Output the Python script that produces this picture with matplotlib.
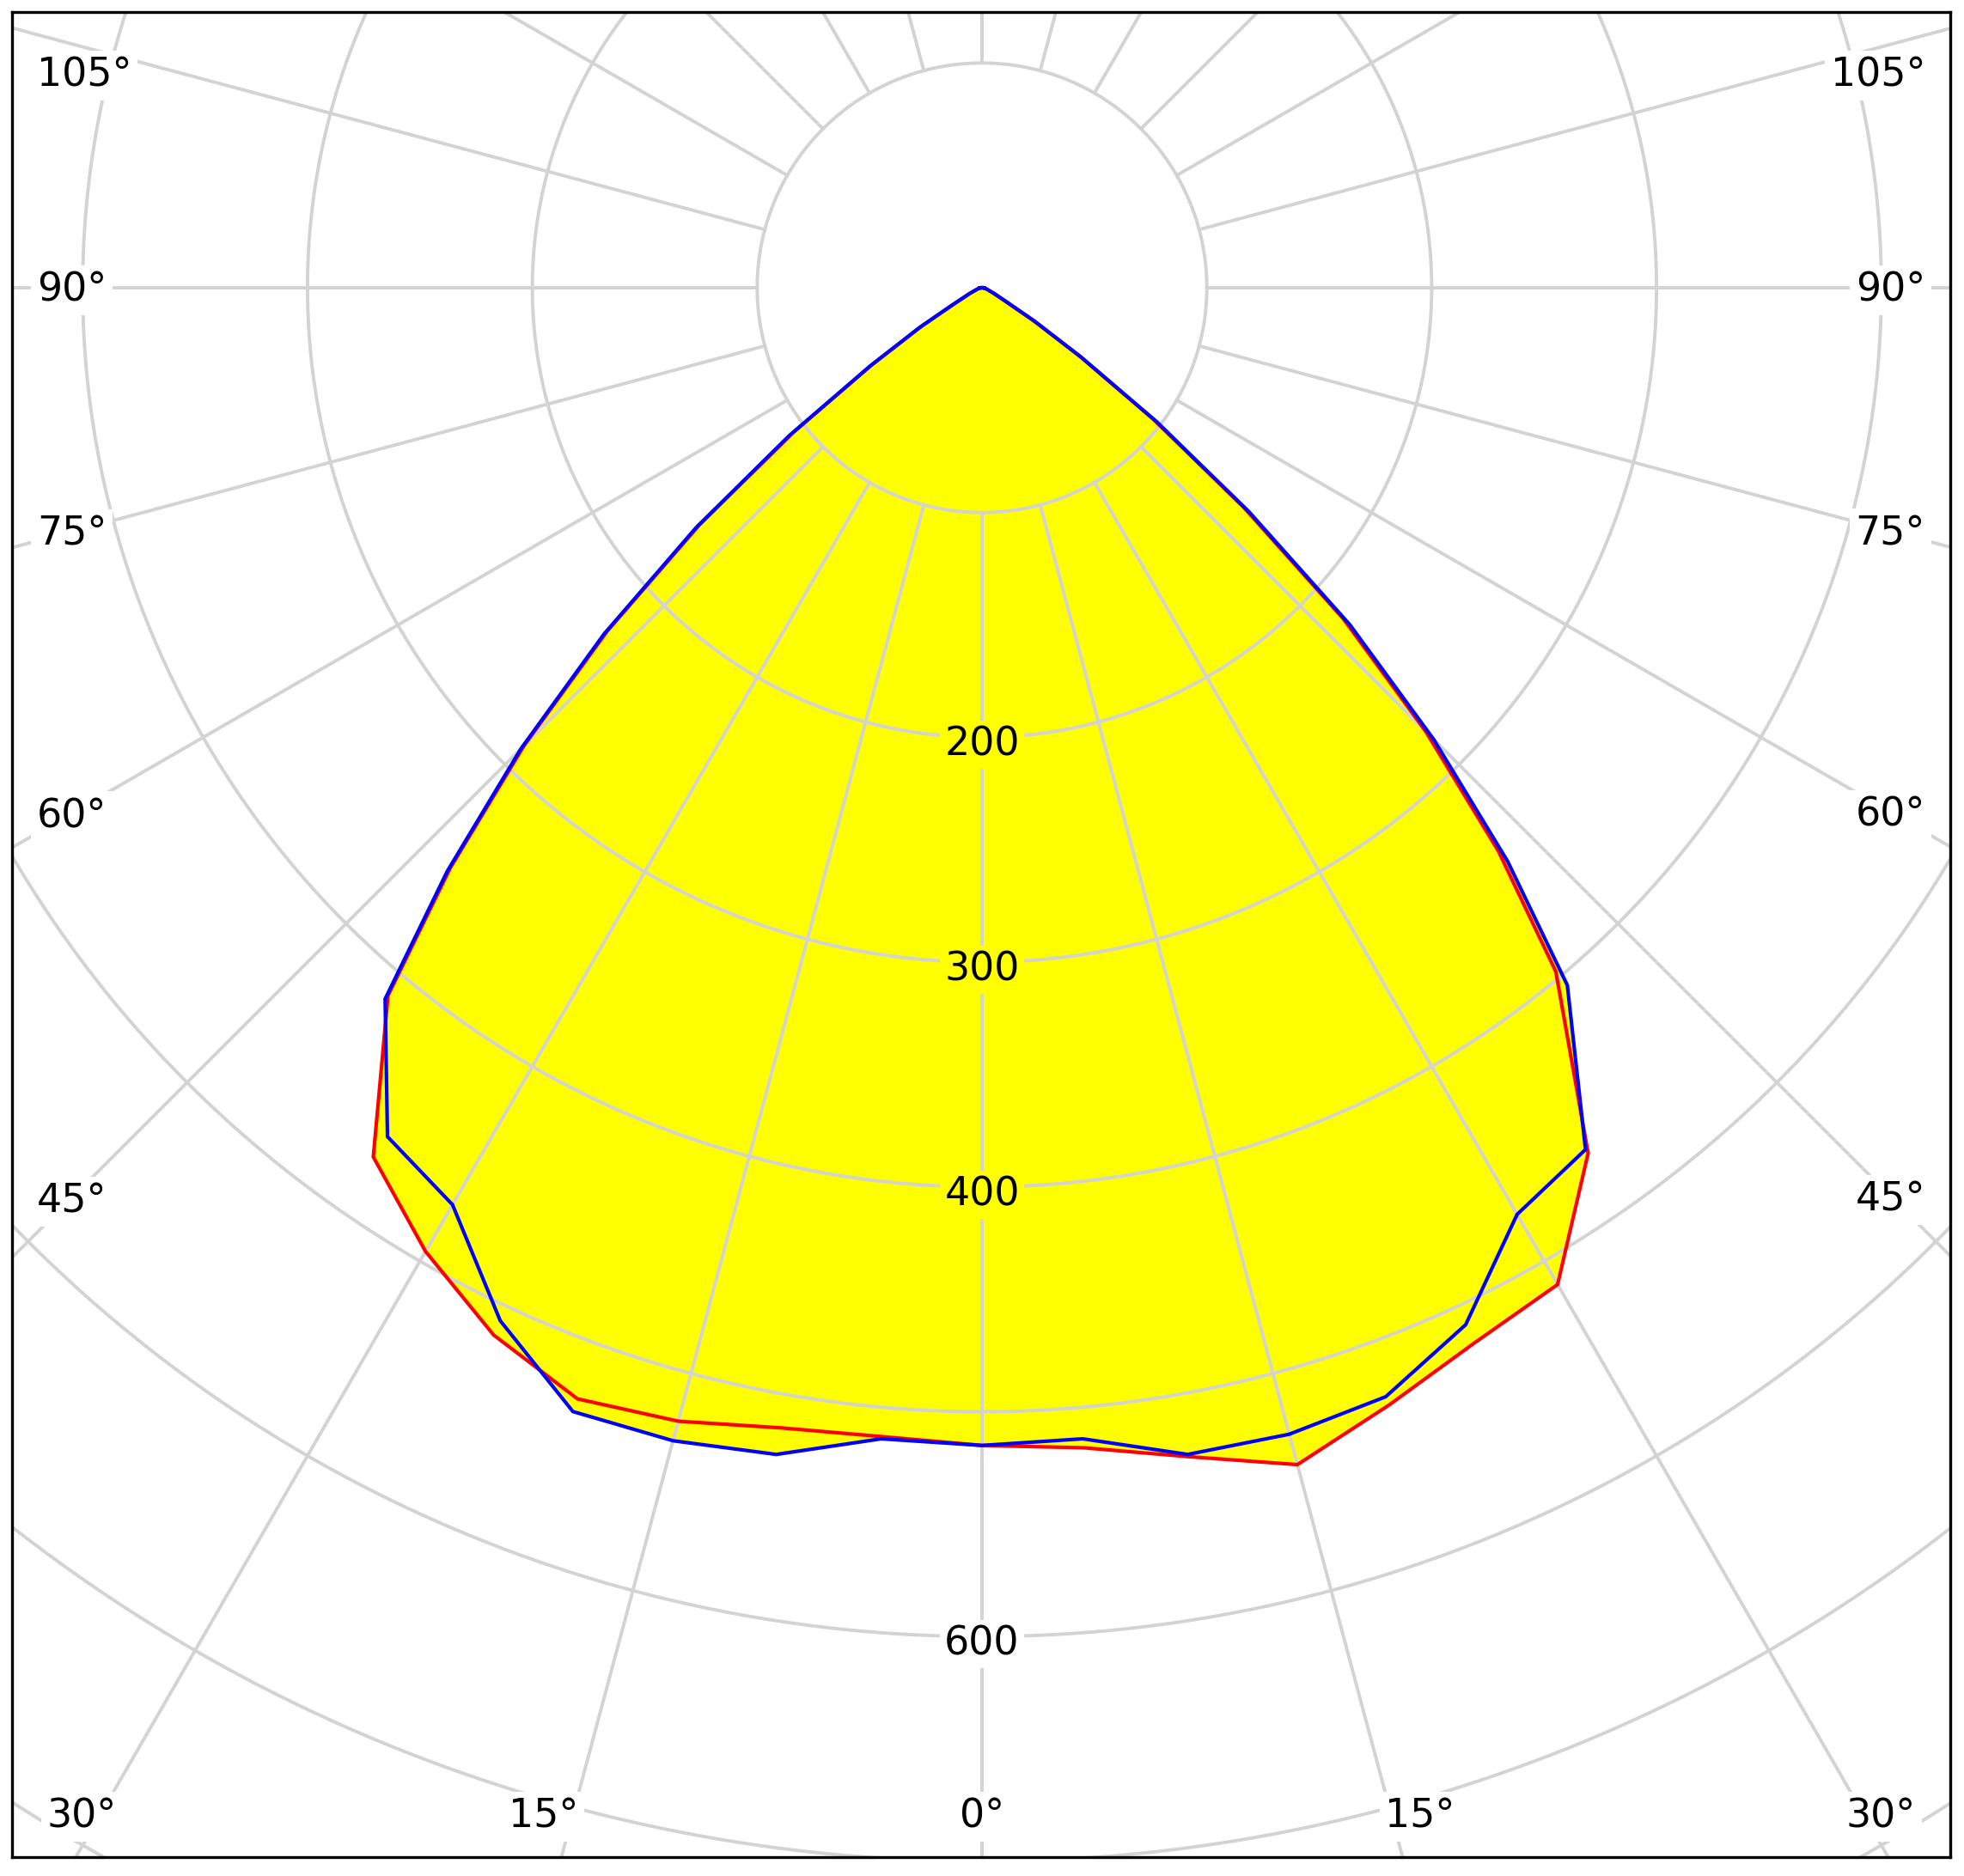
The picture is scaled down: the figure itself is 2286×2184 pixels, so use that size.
import numpy as np
import matplotlib
matplotlib.use("Agg")
import matplotlib.pyplot as plt
from matplotlib.path import Path

# ---- data (cd, angle from nadir in degrees) ----
angles = [0, 5, 10, 15, 20, 25, 30, 35, 40, 42.5, 45, 47.5, 50, 52.5, 55, 57.5, 60,
          65, 70, 75, 80, 85, 90]
red_left = [515, 513, 515, 522, 526, 514, 495, 472, 411, 350, 288, 226, 164, 106, 60, 32, 14,
            6, 3, 2, 1, 1, 0]
red_right = [515, 518, 528, 542, 529, 518, 512, 470, 397, 340, 279, 218, 152, 96, 53, 27, 12,
             5, 3, 2, 1, 1, 0]
blue_left = [515, 514, 527, 531, 532, 507, 471, 461, 413, 352, 290, 228, 166, 108, 61, 33, 15,
             6, 3, 2, 1, 1, 0]
blue_right = [515, 514, 527, 528, 525, 509, 476, 468, 405, 346, 284, 222, 155, 98, 54, 28, 13,
              6, 3, 2, 1, 1, 0]
grid_radii = [100, 200, 300, 400, 500, 600, 700, 800]
radius_labels = [200, 300, 400, 600]
spoke_angles = list(range(0, 360, 15))
label_angles = list(range(0, 181, 15))

# ---- layout ----
W, H = 2286, 2184
fig = plt.figure(figsize=(W / 100, H / 100), dpi=100)
fig.patch.set_facecolor("white")
fl, fr, ft, fb = 14, 2270, 14, 2162
cxp, cyp = 1143, 335
k = 1 / 2.617  # cd per pixel
ax = fig.add_axes([fl / W, 1 - fb / H, (fr - fl) / W, (fb - ft) / H])
xmin, xmax = -(cxp - fl) * k, (fr - cxp) * k
ymin, ymax = -(fb - cyp) * k, (cyp - ft) * k
ax.set_xlim(xmin, xmax)
ax.set_ylim(ymin, ymax)
ax.set_xticks([])
ax.set_yticks([])
for sp in ax.spines.values():
    sp.set_linewidth(2.4)
    sp.set_color("black")
    sp.set_zorder(10)

plt.rcParams["font.family"] = ["DejaVu Sans"]
FS = 33
GRID = "#d3d3d3"


def curve(left, right):
    a = np.radians(np.concatenate([-np.array(angles[::-1]), np.array(angles[1:])]))
    r = np.concatenate([np.array(left[::-1]), np.array(right[1:])])
    return r * np.sin(a), -r * np.cos(a)


xr, yr = curve(red_left, red_right)
xb, yb = curve(blue_left, blue_right)

ax.fill(xr, yr, color="#ffff00", lw=0, zorder=1)
ax.fill(xb, yb, color="#ffff00", lw=0, zorder=1)

# grid circles
t = np.linspace(0, 2 * np.pi, 1441)
for r in grid_radii:
    ax.plot(r * np.cos(t), r * np.sin(t), color=GRID, lw=2.8, zorder=2)
# spokes
for a in spoke_angles:
    s, c = np.sin(np.radians(a)), np.cos(np.radians(a))
    ax.plot([100 * s, 1200 * s], [-100 * c, -1200 * c], color=GRID, lw=2.8, zorder=2)

ax.plot(xr, yr, color="#ff0000", lw=3.0, zorder=3, solid_joinstyle="miter")
ax.plot(xb, yb, color="#0000ff", lw=3.0, zorder=4, solid_joinstyle="miter")

# intensity labels
paths = [Path(np.column_stack([xr, yr])), Path(np.column_stack([xb, yb]))]
for r in radius_labels:
    inside = any(p.contains_point((0, -r)) for p in paths)
    fc = "#ffff00" if inside else "white"
    ax.text(0, -r - 9 * k, str(r), ha="center", va="center", fontsize=FS, zorder=6,
            bbox=dict(boxstyle="square,pad=0.12", fc=fc, ec="none"))

# angle labels
side_in = 68 * k
text_in = 29 * k
bot_in = 50 * k
top_in = 71 * k
bot_depth = (fb - cyp + 77) * k
bot_clamp = 81 * k
dy_txt = -3 * k
for a in label_angles:
    sides = [1] if a in (0, 180) else [-1, 1]
    for sgn in sides:
        sa, ca = np.sin(np.radians(a)), np.cos(np.radians(a))
        edge = xmax if sgn > 0 else -xmin
        tx = edge / sa if sa > 1e-9 else np.inf
        if ca > 1e-9:
            ty = -ymin / ca
            ybound = "bottom"
        elif ca < -1e-9:
            ty = ymax / (-ca)
            ybound = "top"
        else:
            ty = np.inf
            ybound = None
        bb = dict(boxstyle="square,pad=0.15", fc="white", ec="none")
        if tx <= ty:
            rr = (edge - side_in) / sa
            yy = -rr * ca
            yy = min(max(yy, ymin + bot_in), ymax - top_in)
            if sgn < 0:
                ax.text(xmin + text_in, yy + dy_txt, f"{a}°", ha="left", va="center",
                        fontsize=FS, zorder=6, bbox=bb)
            else:
                ax.text(xmax - text_in, yy + dy_txt, f"{a}°", ha="right", va="center",
                        fontsize=FS, zorder=6, bbox=bb)
        elif ybound == "bottom":
            xx = sgn * bot_depth * sa / ca
            xx = min(max(xx, xmin + bot_clamp), xmax - bot_clamp)
            ax.text(xx, ymin + bot_in + dy_txt, f"{a}°", ha="center", va="center",
                    fontsize=FS, zorder=6, bbox=bb)

fig.savefig("out.png", dpi=100, facecolor="white")
